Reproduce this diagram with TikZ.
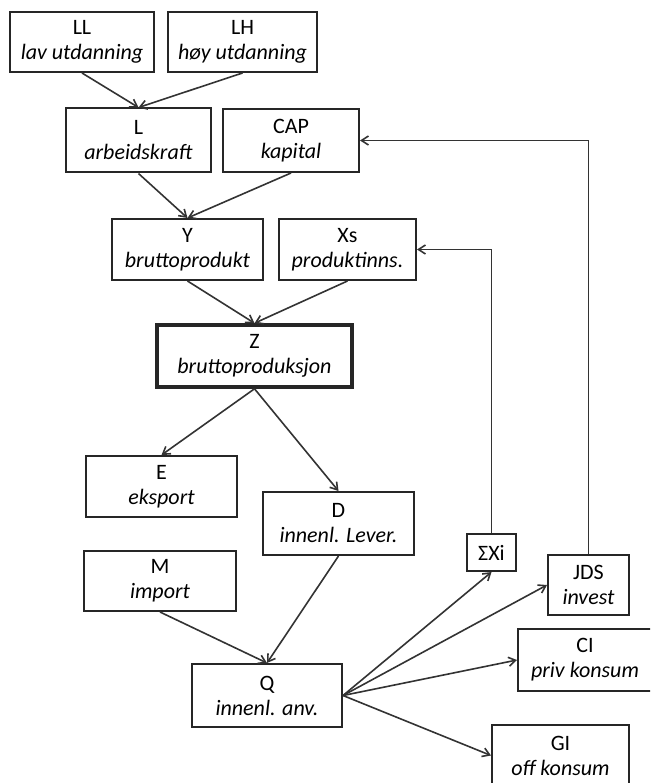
\documentclass[tikz,border=0pt]{standalone}
\usepackage{fontspec}
\setmainfont{Carlito}
\usetikzlibrary{arrows.meta}

\begin{document}
\begin{tikzpicture}[
     x=1pt, y=-1pt,
     % define styles
     blk/.style={
         draw=black!85,
         line width=2pt,
         align=center,
         inner sep=0pt,
         font=\fontsize{22}{25}\selectfont
     },
     main/.style={
         blk,
         line width=3.6pt
     },
     link/.style={
         ->,
         draw=black!80,
         line width=1.6pt
     },
     >={Straight Barb[length=7pt,width=9pt]}
]
\clip (0,0) rectangle (650,783);

% labour and capital
\node[blk, minimum width=144pt, minimum height=60pt] (ll) at (82,42) {LL\\\textit{lav utdanning}};
\node[blk, minimum width=149pt, minimum height=60pt] (lh) at (242.5,42) {LH\\\textit{høy utdanning}};
\node[blk, minimum width=145pt, minimum height=64pt] (l) at (138.5,140.5) {L\\\textit{arbeidskraft}};
\node[blk, minimum width=136pt, minimum height=63pt] (cap) at (291,140.5) {CAP\\\textit{kapital}};

% production
\node[blk, minimum width=151pt, minimum height=61pt] (y) at (187.5,249.5) {Y\\\textit{bruttoprodukt}};
\node[blk, minimum width=137pt, minimum height=61pt] (xs) at (347.5,249.5) {Xs\\\textit{produktinns.}};
\node[main, minimum width=195pt, minimum height=62pt] (z) at (254.5,356) {Z\\\textit{bruttoproduksjon}};

% deliveries
\node[blk, minimum width=151pt, minimum height=61pt] (e) at (161.5,486.5) {E\\\textit{eksport}};
\node[blk, minimum width=151pt, minimum height=63pt] (d) at (338.5,523.5) {D\\\textit{innenl. Lever.}};
\node[blk, minimum width=152pt, minimum height=60pt] (m) at (160,581) {M\\\textit{import}};
\node[blk, minimum width=150pt, minimum height=63pt] (q) at (267,695.5) {Q\\\textit{innenl. anv.}};

% uses
\node[blk, minimum width=49pt, minimum height=37pt] (sx) at (491.5,552.5) {ΣXi};
\node[blk, minimum width=81pt, minimum height=60pt] (jds) at (588.5,585) {JDS\\\textit{invest}};
\node[blk, minimum width=134pt, minimum height=62pt] (ci) at (585,660) {CI\\\textit{priv konsum}};
\node[blk, minimum width=137pt, minimum height=61pt] (gi) at (560.5,755.5) {GI\\\textit{off konsum}};

\draw[link] (ll.south) -- (l.north);
\draw[link] (lh.south) -- (l.north);
\draw[link] (l.south) -- (y.north);
\draw[link] (cap.south) -- (y.north);
\draw[link] (y.south) -- (z.north);
\draw[link] (xs.south) -- (z.north);
\draw[link] (z.south) -- (e.north);
\draw[link] (z.south) -- (d.north);
\draw[link] (d.south) -- (q.north);
\draw[link] (m.south) -- (q.north);

% from Q
\draw[link] (q.east) -- (sx.south);
\draw[link] (q.east) -- (jds.west);
\draw[link] (q.east) -- (ci.west);
\draw[link] (q.east) -- (gi.west);

% feedback
\draw[link] (sx.north) |- (xs.east);
\draw[link] (jds.north) |- (cap.east);

\end{tikzpicture}
\end{document}
